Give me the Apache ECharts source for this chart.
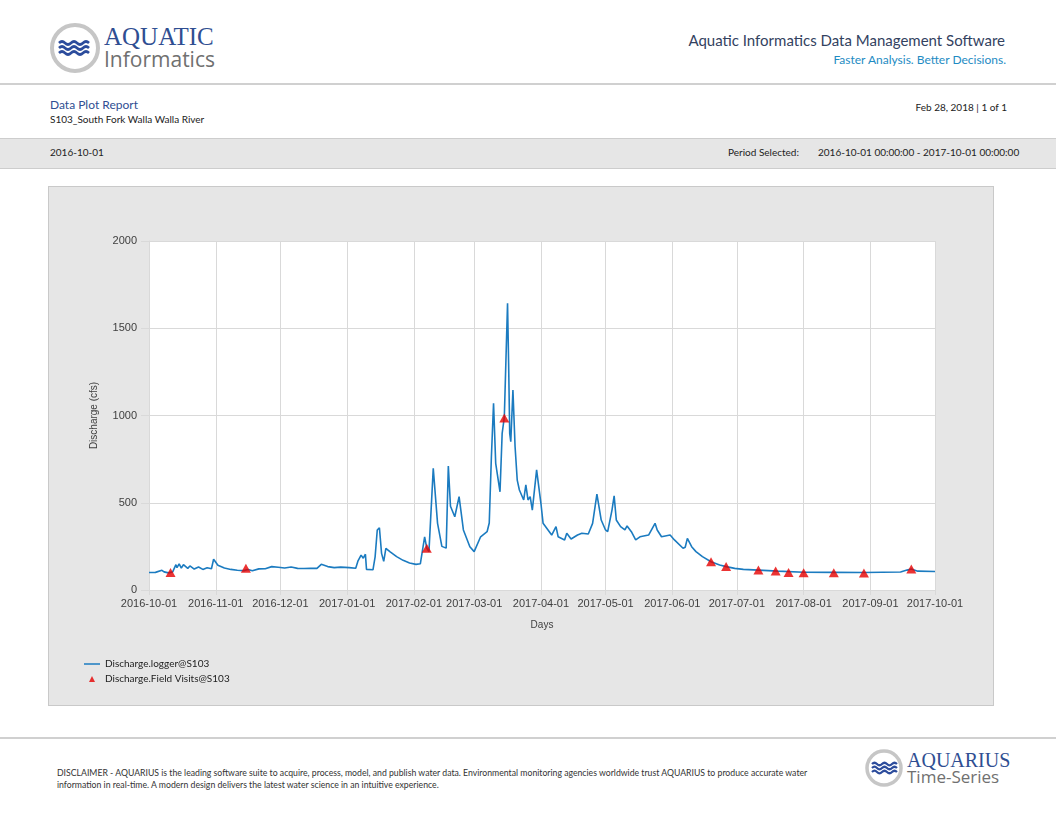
<!DOCTYPE html>
<html>
<head>
<meta charset="utf-8">
<title>Data Plot Report - S103</title>
<script src="https://cdn.jsdelivr.net/npm/echarts@6/dist/echarts.min.js"></script>
<style>
  html, body { margin: 0; padding: 0; background: #fff; }
  body { width: 1056px; height: 816px; position: relative; overflow: hidden; font-family: Lato, "Open Sans", sans-serif; }
  .abs { position: absolute; white-space: nowrap; }
  .rule { position: absolute; left: 0; width: 1056px; height: 0; border-top: 2px solid #d0d0d0; }
  #band { position: absolute; left: 0; top: 138px; width: 1056px; height: 29px; background: #e6e6e6;
          border-top: 1px solid #cdcdcd; border-bottom: 1px solid #cdcdcd; }
  #panel { position: absolute; left: 48px; top: 186px; width: 946px; height: 520px; box-sizing: border-box;
           border: 1px solid #c9c9c9; background: #e6e6e6; }
  #chart { width: 944px; height: 518px; }
</style>
</head>
<body>
<!-- header -->
<svg class="abs" style="left:48px;top:22px" width="56" height="54" viewBox="0 0 56 54">
  <circle cx="27" cy="26" r="23" fill="#fff" stroke="#c6c6c6" stroke-width="4"/>
  <g fill="none" stroke="#2c4c9c" stroke-width="2.6">
    <path d="M11 21 q3 -3 6 0 t6 0 t6 0 t6 0 t6 0"/>
    <path d="M11 26 q3 -3 6 0 t6 0 t6 0 t6 0 t6 0"/>
    <path d="M11 31 q3 -3 6 0 t6 0 t6 0 t6 0 t6 0"/>
  </g>
</svg>
<div class="abs" style="left:104px;top:23px;font:25px 'Liberation Serif','DejaVu Serif',serif;color:#2f4e92">AQUATIC</div>
<div class="abs" style="left:104px;top:45px;font:21px 'Open Sans',sans-serif;color:#707070">Informatics</div>
<div class="abs" style="right:51px;top:31px;font:15px Lato,sans-serif;color:#33425f">Aquatic Informatics Data Management Software</div>
<div class="abs" style="right:50px;top:52px;font:12px Lato,sans-serif;color:#1e8bc3">Faster Analysis. Better Decisions.</div>
<div class="rule" style="top:83px"></div>

<div class="abs" style="left:50px;top:97px;font:12px Lato,sans-serif;color:#2f4e92">Data Plot Report</div>
<div class="abs" style="left:50px;top:113px;font:10px Lato,sans-serif;color:#222">S103_South Fork Walla Walla River</div>
<div class="abs" style="right:49px;top:101px;font:10px Lato,sans-serif;color:#222">Feb 28, 2018 | 1 of 1</div>

<div id="band"></div>
<div class="abs" style="left:50px;top:146px;font:10px Lato,sans-serif;color:#222">2016-10-01</div>
<div class="abs" style="left:728px;top:146px;font:10px Lato,sans-serif;color:#222">Period Selected:</div>
<div class="abs" style="left:818px;top:146px;font:10px Lato,sans-serif;color:#222">2016-10-01 00:00:00 - 2017-10-01 00:00:00</div>

<!-- chart panel -->
<div id="panel"><div id="chart"></div></div>

<!-- footer -->
<div class="rule" style="top:737px"></div>
<div class="abs" style="left:57px;top:767px;font:8.7px Lato,sans-serif;color:#333;line-height:12px">DISCLAIMER - AQUARIUS is the leading software suite to acquire, process, model, and publish water data. Environmental monitoring agencies worldwide trust AQUARIUS to produce accurate water<br>information in real-time. A modern design delivers the latest water science in an intuitive experience.</div>
<svg class="abs" style="left:863px;top:748px" width="42" height="40" viewBox="0 0 42 40">
  <circle cx="21" cy="20" r="17" fill="#fff" stroke="#c6c6c6" stroke-width="3.5"/>
  <g fill="none" stroke="#2c4c9c" stroke-width="2.2">
    <path d="M9 16 q2.5 -2.5 5 0 t5 0 t5 0 t5 0 t5 0"/>
    <path d="M9 20 q2.5 -2.5 5 0 t5 0 t5 0 t5 0 t5 0"/>
    <path d="M9 24 q2.5 -2.5 5 0 t5 0 t5 0 t5 0 t5 0"/>
  </g>
</svg>
<div class="abs" style="left:907px;top:749px;font:20px 'Liberation Serif','DejaVu Serif',serif;color:#2f4e92">AQUARIUS</div>
<div class="abs" style="left:907px;top:765px;font:17px 'Open Sans',sans-serif;color:#707070">Time-Series</div>

<script>
// logger discharge (cfs)
const loggerTimes = [
  '2016-10-01', '2016-10-04', '2016-10-07', '2016-10-08', '2016-10-10', '2016-10-12', '2016-10-13 12:00',
  '2016-10-14', '2016-10-15', '2016-10-16', '2016-10-17', '2016-10-19', '2016-10-20', '2016-10-22',
  '2016-10-24', '2016-10-26', '2016-10-28', '2016-10-30', '2016-10-31', '2016-11-02', '2016-11-05',
  '2016-11-08', '2016-11-11', '2016-11-14', '2016-11-16', '2016-11-18', '2016-11-21', '2016-11-24',
  '2016-11-27', '2016-11-30', '2016-12-03', '2016-12-06', '2016-12-09', '2016-12-12', '2016-12-15',
  '2016-12-18', '2016-12-20', '2016-12-23', '2016-12-26', '2016-12-29', '2017-01-02', '2017-01-05',
  '2017-01-06', '2017-01-07 12:00', '2017-01-08 12:00', '2017-01-09 12:00', '2017-01-10', '2017-01-13',
  '2017-01-14', '2017-01-15', '2017-01-16', '2017-01-17', '2017-01-18', '2017-01-19', '2017-01-21',
  '2017-01-24', '2017-01-27', '2017-01-30', '2017-02-02', '2017-02-04', '2017-02-06', '2017-02-07',
  '2017-02-08', '2017-02-10', '2017-02-12', '2017-02-14', '2017-02-16', '2017-02-17', '2017-02-18',
  '2017-02-20', '2017-02-22', '2017-02-24', '2017-02-27', '2017-03-01', '2017-03-04', '2017-03-07',
  '2017-03-08', '2017-03-09', '2017-03-10', '2017-03-11', '2017-03-13', '2017-03-14', '2017-03-15',
  '2017-03-16 12:00', '2017-03-17', '2017-03-17 12:00', '2017-03-18', '2017-03-19', '2017-03-20',
  '2017-03-21', '2017-03-22', '2017-03-24', '2017-03-25', '2017-03-26', '2017-03-27', '2017-03-28',
  '2017-03-30', '2017-04-01', '2017-04-02', '2017-04-06', '2017-04-08', '2017-04-09', '2017-04-12',
  '2017-04-13', '2017-04-15', '2017-04-18', '2017-04-20', '2017-04-23', '2017-04-25', '2017-04-27',
  '2017-04-29', '2017-05-01', '2017-05-02', '2017-05-04', '2017-05-05', '2017-05-06', '2017-05-08',
  '2017-05-10', '2017-05-11', '2017-05-13', '2017-05-15', '2017-05-17', '2017-05-21', '2017-05-24',
  '2017-05-25', '2017-05-27', '2017-05-31', '2017-06-02', '2017-06-06', '2017-06-07', '2017-06-08',
  '2017-06-10', '2017-06-12', '2017-06-15', '2017-06-19', '2017-06-23', '2017-06-26', '2017-06-30',
  '2017-07-04', '2017-07-11', '2017-07-20', '2017-08-01', '2017-08-15', '2017-08-29', '2017-09-15',
  '2017-09-18', '2017-09-20', '2017-09-23', '2017-10-01'
];
const loggerFlow = [
  100, 101, 113, 104, 98, 104, 145,
  128, 150, 126, 145, 124, 138, 120,
  132, 118, 128, 122, 176, 142, 126,
  118, 113, 111, 118, 110, 121, 122,
  134, 130, 126, 132, 124, 123, 125,
  124, 147, 134, 128, 131, 128, 125,
  165, 200, 182, 205, 118, 116,
  190, 344, 357, 210, 164, 239, 218,
  191, 170, 155, 147, 150, 305, 240,
  220, 697, 382, 250, 240, 711, 480,
  420, 535, 344, 248, 220, 305, 334,
  384, 764, 1070, 726, 563, 898, 990,
  1643, 1300, 898, 850, 1146, 821,
  630, 573, 516, 602, 516, 535, 458,
  688, 497, 382, 315, 363, 305, 287,
  325, 292, 315, 325, 321, 382, 550,
  401, 344, 334, 458, 539, 401, 363,
  344, 367, 334, 287, 305, 315, 382,
  344, 305, 315, 287, 239, 245, 296,
  248, 220, 191, 162, 143, 134, 124,
  118, 114, 108, 102, 101, 100, 103,
  114, 120, 108, 106
];

// field visit measurements (cfs)
const visitTimes = [
  '2016-10-11', '2016-11-15', '2017-02-07', '2017-03-15', '2017-06-19', '2017-06-26', '2017-07-11',
  '2017-07-19', '2017-07-25', '2017-08-01', '2017-08-15', '2017-08-29', '2017-09-20'
];
const visitFlow = [100, 125, 239, 985, 162, 134, 115, 109, 101, 99, 99, 97, 120];

const yTicks = { min: 0, max: 2000, step: 500 };
const seriesNames = ['Discharge.logger@S103', 'Discharge.Field Visits@S103'];

const chart = echarts.init(document.getElementById('chart'));
const axisFont = { fontFamily: '"Liberation Sans", Arial, sans-serif', fontSize: 10, color: '#404040' };
const tickFont = { fontFamily: '"Liberation Sans", Arial, sans-serif', fontSize: 11, color: '#404040' };

chart.setOption({
  animation: false,
  backgroundColor: '#e6e6e6',
  textStyle: { fontFamily: '"Liberation Sans", Arial, sans-serif' },
  grid: { left: 100, top: 54, width: 786, height: 349, show: true, backgroundColor: '#fff', borderWidth: 0 },
  legend: {
    orient: 'vertical',
    left: 33,
    top: 469,
    itemWidth: 16,
    itemHeight: 6,
    itemGap: 3,
    padding: 2,
    textStyle: { fontFamily: 'Lato, sans-serif', fontSize: 10, color: '#222', lineHeight: 12 },
    data: [
      { name: seriesNames[0], icon: 'path://M0,0 H16 V1.5 H0 Z' },
      { name: seriesNames[1], icon: 'path://M0,6 L3,0 L6,6 Z' }
    ]
  },
  xAxis: {
    type: 'time',
    min: '2016-10-01',
    max: '2017-10-01',
    splitNumber: 12,
    minInterval: 28 * 86400000,
    maxInterval: 31 * 86400000,
    name: 'Days',
    nameLocation: 'middle',
    nameGap: 30,
    nameTextStyle: axisFont,
    axisLine: { show: true, lineStyle: { color: '#d9d9d9' } },
    axisTick: { show: true, length: 5, lineStyle: { color: '#d9d9d9' } },
    splitLine: { show: true, lineStyle: { color: '#d9d9d9' } },
    axisLabel: {
      ...tickFont,
      margin: 8,
      hideOverlap: false,
      showMinLabel: true,
      showMaxLabel: true,
      formatter: '{yyyy}-{MM}-{dd}'
    }
  },
  yAxis: {
    type: 'value',
    min: yTicks.min,
    max: yTicks.max,
    interval: yTicks.step,
    name: 'Discharge (cfs)',
    nameLocation: 'middle',
    nameGap: 50,
    nameTextStyle: axisFont,
    axisLine: { show: true, lineStyle: { color: '#d9d9d9' } },
    axisTick: { show: true, length: 8, lineStyle: { color: '#d9d9d9' } },
    splitLine: { show: true, lineStyle: { color: '#d9d9d9' } },
    axisLabel: { ...tickFont, margin: 12, formatter: (v) => String(v) }
  },
  series: [
    {
      name: seriesNames[0],
      type: 'line',
      showSymbol: false,
      symbol: 'none',
      color: '#1b7bc0',
      lineStyle: { width: 1.6, color: '#1b7bc0' },
      data: loggerTimes.map((t, i) => [t, loggerFlow[i]])
    },
    {
      name: seriesNames[1],
      type: 'scatter',
      symbol: 'triangle',
      symbolSize: [10, 9],
      color: '#e60000',
      itemStyle: { color: '#e60000' },
      z: 5,
      data: visitTimes.map((t, i) => [t, visitFlow[i]])
    }
  ]
});

new ResizeObserver(() => chart.resize()).observe(document.getElementById('chart'));
</script>
</body>
</html>
